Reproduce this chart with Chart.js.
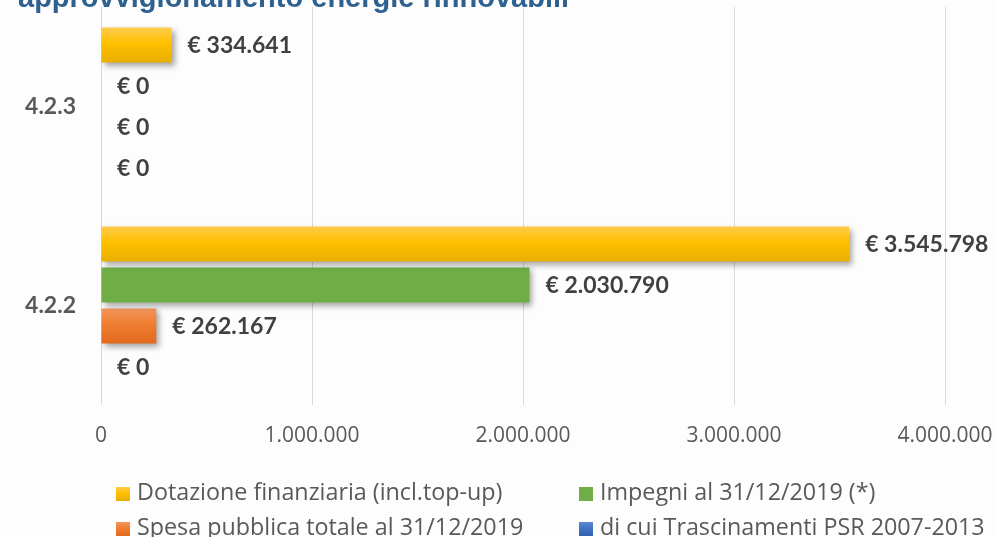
<!DOCTYPE html>
<html>
<head>
<meta charset="utf-8">
<script src="https://cdn.jsdelivr.net/npm/chart.js@4/dist/chart.umd.min.js"></script>
<style>
  html, body { margin: 0; padding: 0; background: #fdfdfd; overflow: hidden; }
  #wrap { position: relative; width: 997px; height: 537px; }
  #title { position: absolute; left: 18px; top: -17px; font: bold 29px "Liberation Sans", Arial, sans-serif;
           color: #2f6190; line-height: 29px; white-space: nowrap; }
  .leg { position: absolute; font: 23.3px "Open Sans", sans-serif; color: #595959; white-space: nowrap; line-height: 26px; }
  .leg span { display: inline-block; width: 14px; height: 14px; margin-right: 7px; vertical-align: -1px; }
</style>
</head>
<body>
<div id="wrap">
  <canvas id="misura423" width="997" height="537"></canvas>
  <div id="title">approvvigionamento energie rinnovabili</div>
  <div id="legend"></div>
</div>
<script>
// sottomisure
var categorie = ['4.2.3', '4.2.2'];
// valori in euro
var dotazione = [334641, 3545798];
var impegni = [0, 2030790];
var spesa = [0, 262167];
var trascinamenti = [0, 0];
// etichette serie
var serie = ['Dotazione finanziaria (incl.top-up)', 'Impegni al 31/12/2019 (*)',
             'Spesa pubblica totale al 31/12/2019', 'di cui Trascinamenti PSR 2007-2013'];
var assex = [0, 1000000, 2000000, 3000000, 4000000];

function punti(n) {
  return String(n).replace(/\B(?=(\d{3})+(?!\d))/g, '.');
}

// gradiente verticale per ogni barra
function sfumato(top, mid, bottom) {
  return function (c) {
    var el = c.element;
    if (!el || !el.height) return mid;
    var y0 = el.y - el.height / 2;
    var g = c.chart.ctx.createLinearGradient(0, y0, 0, y0 + el.height);
    g.addColorStop(0, top);
    g.addColorStop(0.45, mid);
    g.addColorStop(1, bottom);
    return g;
  };
}

var ombraEtichette = {
  id: 'ombraEtichette',
  beforeDatasetsDraw: function (chart) {
    var ctx = chart.ctx;
    ctx.save();
    ctx.shadowColor = 'rgba(0,0,0,0.35)';
    ctx.shadowBlur = 6;
    ctx.shadowOffsetX = 3;
    ctx.shadowOffsetY = 3;
  },
  afterDatasetsDraw: function (chart) {
    var ctx = chart.ctx;
    ctx.restore();
    ctx.save();
    ctx.font = 'bold 23px Lato, sans-serif';
    ctx.fillStyle = '#404040';
    ctx.textAlign = 'left';
    ctx.textBaseline = 'middle';
    chart.data.datasets.forEach(function (ds, i) {
      chart.getDatasetMeta(i).data.forEach(function (bar, j) {
        ctx.fillText('€ ' + punti(ds.data[j]), bar.x + 16, bar.y + 1);
      });
    });
    ctx.restore();
  }
};

var colori = ['#ffc000', '#70ad47', '#ed7d31', '#4472c4'];

var ctx_misura = document.getElementById('misura423');
var misura = new Chart(ctx_misura, {
  type: 'bar',
  data: {
    labels: categorie,
    datasets: [
      { label: serie[0], data: dotazione, backgroundColor: sfumato('#ffcb4c', '#ffc000', '#e9ae00') },
      { label: serie[1], data: impegni, backgroundColor: colori[1] },
      { label: serie[2], data: spesa, backgroundColor: sfumato('#f4965c', '#ee7d31', '#e2691c') },
      { label: serie[3], data: trascinamenti, backgroundColor: colori[3] },
    ],
  },
  options: {
    indexAxis: 'y',
    responsive: false,
    animation: false,
    categoryPercentage: 0.824,
    barPercentage: 0.854,
    layout: { padding: { top: 7, right: 52, bottom: 70, left: 0 } },
    scales: {
      x: {
        min: 0,
        max: 4000000,
        afterBuildTicks: function (s) { s.ticks = assex.map(function (v) { return { value: v }; }); },
        afterFit: function (s) { s.height = 62; s.paddingRight = 0; },
        border: { display: false },
        grid: { color: '#d9d9d9', lineWidth: 1, drawTicks: false },
        ticks: {
          padding: 18,
          color: '#595959',
          font: { family: 'Open Sans', size: 21 },
          callback: function (v) { return punti(v); }
        }
      },
      y: {
        afterFit: function (s) { s.width = 101; s.paddingTop = 0; s.paddingBottom = 0; },
        border: { display: false },
        grid: { display: false, drawTicks: false },
        ticks: {
          padding: 25,
          color: '#595959',
          font: { family: 'Lato', size: 23, weight: 'bold' }
        }
      }
    },
    plugins: {
      legend: { display: false },
      tooltip: { enabled: false }
    }
  },
  plugins: [ombraEtichette]
});
misura.update('none');

// legenda in due colonne
var box = [
  'linear-gradient(#ffcb4c, #ffc000 45%, #e9ae00)',
  '#70ad47',
  'linear-gradient(#f4965c, #ee7d31 45%, #e2691c)',
  'linear-gradient(#5a86d2, #4472c4 45%, #3560b0)'
];
var posLeg = [[116, 478], [579, 478], [116, 513], [579, 513]];
var leg = document.getElementById('legend');
serie.forEach(function (s, i) {
  var d = document.createElement('div');
  d.className = 'leg';
  d.style.left = posLeg[i][0] + 'px';
  d.style.top = posLeg[i][1] + 'px';
  d.innerHTML = '<span style="background:' + box[i] + '"></span>' + s;
  leg.appendChild(d);
});
</script>
</body>
</html>
